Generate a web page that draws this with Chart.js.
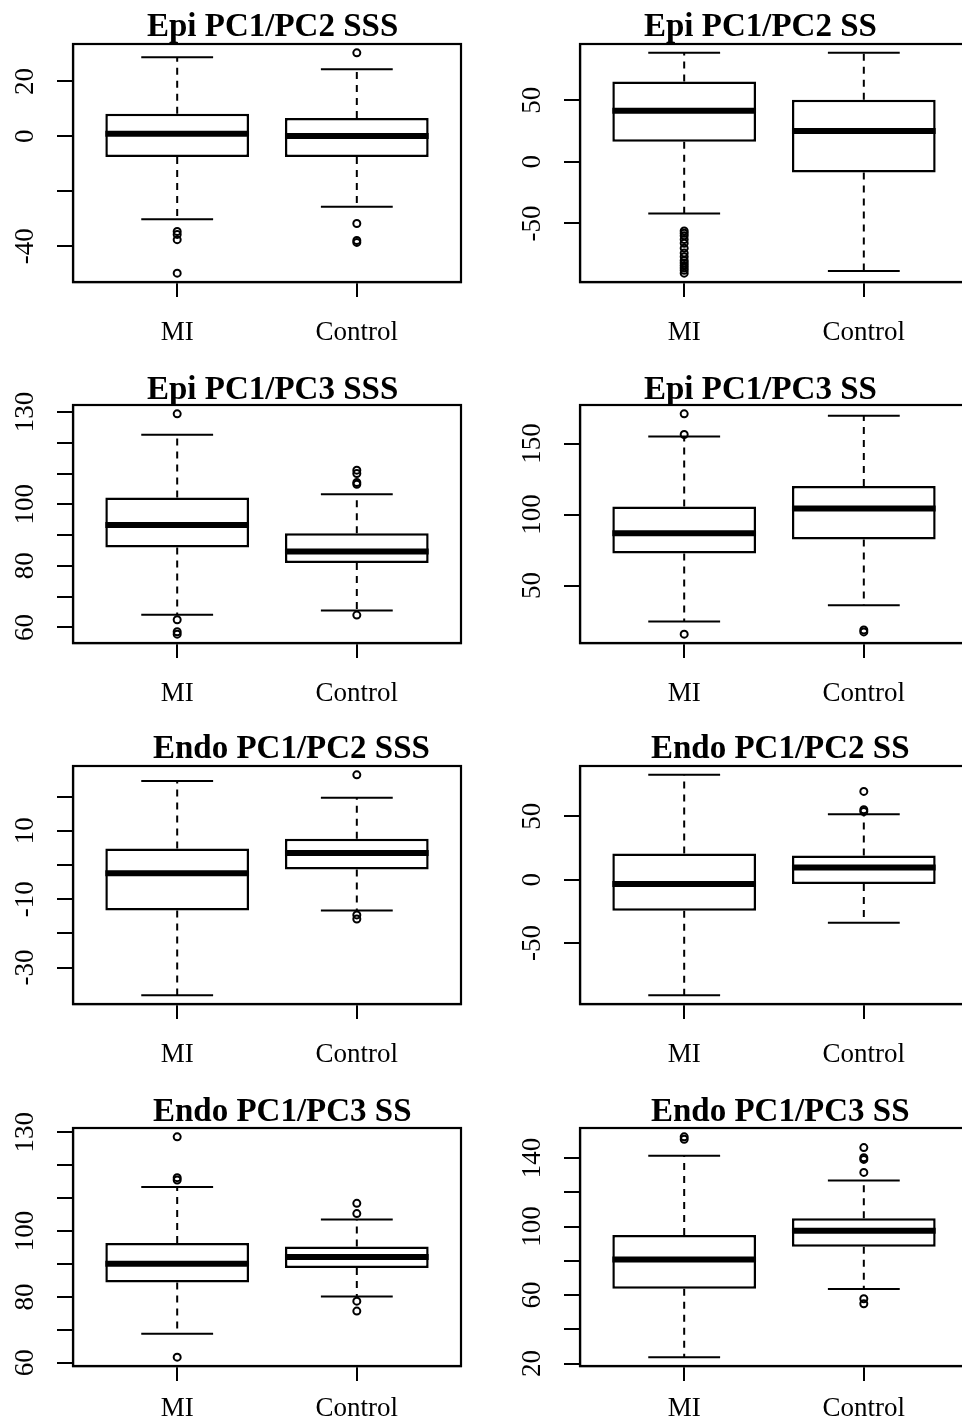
<!DOCTYPE html>
<html>
<head>
<meta charset="utf-8">
<script src="https://cdn.jsdelivr.net/npm/chart.js@4.4.0/dist/chart.umd.min.js"></script>
<style>
html, body { margin: 0; padding: 0; background: #fff; overflow: hidden; width: 962px; height: 1420px; }
.painel { position: absolute; }
.titulo { position: absolute; font: bold 33px "Liberation Serif", "Times New Roman", serif; line-height: 33px; white-space: nowrap; color: #000; }
</style>
</head>
<body>
<script>
const grupos = ['MI', 'Control'];

// stats per group: [lower whisker, q1, median, q3, upper whisker]
const epi12sssStats = [[-30.2, -7.5, 0.9, 8.2, 28.8], [-25.6, -7.5, 0.1, 6.7, 24.4]];
const epi12sssOut = [[-34.6, -35.7, -37.6, -49.8], [30.4, -31.7, -37.9, -38.6]];
const epi12sssTicks = [-40, -20, 0, 20];
const epi12sssLabels = ['-40', '', '0', '20'];

const epi12ssStats = [[-41.9, 16.2, 41.4, 65.1, 88.4], [-88.6, -8.6, 24.9, 50.3, 88.4]];
const epi12ssOut = [[-56, -58, -60, -63, -66, -70, -74, -77, -80, -82, -84, -86, -88, -90.3], []];
const epi12ssTicks = [-50, 0, 50];
const epi12ssLabels = ['-50', '0', '50'];

const epi13sssStats = [[64.1, 86.0, 93.3, 102.2, 122.6], [65.5, 80.9, 84.7, 90.6, 103.3]];
const epi13sssOut = [[129.4, 62.5, 58.6, 57.8], [111.1, 110.0, 107.1, 106.5, 64.0]];
const epi13sssTicks = [60, 70, 80, 90, 100, 110, 120, 130];
const epi13sssLabels = ['60', '', '80', '', '100', '', '', '130'];

const epi13ssStats = [[24.6, 72.6, 86.9, 105.6, 155.0], [36.1, 82.4, 104.2, 120.1, 169.6]];
const epi13ssOut = [[171.0, 156.4, 15.7], [18.7, 17.3]];
const epi13ssTicks = [50, 100, 150];
const epi13ssLabels = ['50', '100', '150'];

const endo12sssStats = [[-38.1, -13.3, -2.4, 4.8, 24.6], [-13.3, -1.3, 3.5, 7.7, 19.7]];
const endo12sssOut = [[], [26.4, -14.6, -15.8]];
const endo12sssTicks = [-30, -20, -10, 0, 10, 20];
const endo12sssLabels = ['-30', '', '-10', '', '10', ''];

const endo12ssStats = [[-91.1, -24.6, -3.4, 20.7, 82.7], [-34.0, -3.4, 9.7, 19.1, 51.6]];
const endo12ssOut = [[], [69.6, 55.2, 53.7]];
const endo12ssTicks = [-50, 0, 50];
const endo12ssLabels = ['-50', '0', '50'];

const endo13aStats = [[68.8, 84.4, 90.1, 96.4, 113.4], [80.1, 88.8, 92.1, 95.3, 103.5]];
const endo13aOut = [[128.6, 116.2, 115.5, 61.7], [108.4, 105.3, 78.7, 75.7]];
const endo13aTicks = [60, 70, 80, 90, 100, 110, 120, 130];
const endo13aLabels = ['60', '', '80', '', '100', '', '', '130'];

const endo13bStats = [[23.7, 63.7, 80.8, 95.1, 141.4], [63.5, 88.2, 97.6, 104.9, 126.9]];
const endo13bOut = [[152.4, 151.0], [146.1, 140.2, 139.2, 131.6, 57.8, 54.9]];
const endo13bTicks = [20, 40, 60, 80, 100, 120, 140];
const endo13bLabels = ['20', '', '60', '', '100', '', '140'];

const paineis = [
    { titulo: 'Epi PC1/PC2 SSS', stats: epi12sssStats, out: epi12sssOut, ticks: epi12sssTicks, labels: epi12sssLabels },
    { titulo: 'Epi PC1/PC2 SS', stats: epi12ssStats, out: epi12ssOut, ticks: epi12ssTicks, labels: epi12ssLabels },
    { titulo: 'Epi PC1/PC3 SSS', stats: epi13sssStats, out: epi13sssOut, ticks: epi13sssTicks, labels: epi13sssLabels },
    { titulo: 'Epi PC1/PC3 SS', stats: epi13ssStats, out: epi13ssOut, ticks: epi13ssTicks, labels: epi13ssLabels },
    { titulo: 'Endo PC1/PC2 SSS', stats: endo12sssStats, out: endo12sssOut, ticks: endo12sssTicks, labels: endo12sssLabels },
    { titulo: 'Endo PC1/PC2 SS', stats: endo12ssStats, out: endo12ssOut, ticks: endo12ssTicks, labels: endo12ssLabels },
    { titulo: 'Endo PC1/PC3 SS', stats: endo13aStats, out: endo13aOut, ticks: endo13aTicks, labels: endo13aLabels },
    { titulo: 'Endo PC1/PC3 SS', stats: endo13bStats, out: endo13bOut, ticks: endo13bTicks, labels: endo13bLabels }
];

// --- layout (frame left / top of each plot, title placement) ---
const colunaX = [73, 580];
const linhaY = [44, 405, 766, 1128];
const tituloX = [147, 644, 147, 644, 153, 651, 153, 651];
const tituloBase = [37, 37, 400, 400, 759, 759, 1122, 1122];
const EIXO_Y = 73, PAD_TOPO = 30, PAD_DIR = 20, ALT_AREA = 238, LARG_AREA = 388, EIXO_X = 70;
const FONTE = '"Liberation Serif", "Times New Roman", serif';

// moldura completa em volta da área do gráfico
const moldura = {
    id: 'moldura',
    afterDraw(chart) {
        const { ctx, chartArea: a } = chart;
        ctx.save();
        ctx.strokeStyle = '#000';
        ctx.lineWidth = 2.2;
        ctx.strokeRect(a.left, a.top, a.right - a.left, a.bottom - a.top);
        ctx.restore();
    }
};

const medidor = document.createElement('canvas').getContext('2d');
medidor.font = '27px ' + FONTE;

function segmentos(lista) {
    // junta segmentos com um ponto nulo entre eles
    const pts = [];
    lista.forEach((s, i) => {
        if (i > 0) pts.push({ x: s[0].x, y: null });
        pts.push(s[0], s[1]);
    });
    return pts;
}

function criarPainel(p, idx) {
    const col = idx % 2, lin = Math.floor(idx / 2);
    const canvas = document.createElement('canvas');
    canvas.className = 'painel';
    canvas.width = EIXO_Y + LARG_AREA + PAD_DIR;
    canvas.height = PAD_TOPO + ALT_AREA + EIXO_X;
    canvas.style.left = (colunaX[col] - EIXO_Y) + 'px';
    canvas.style.top = (linhaY[lin] - PAD_TOPO) + 'px';
    document.body.appendChild(canvas);

    const t = document.createElement('div');
    t.className = 'titulo';
    t.textContent = p.titulo;
    t.style.left = tituloX[idx] + 'px';
    t.style.top = (tituloBase[idx] - 28) + 'px';
    document.body.appendChild(t);

    // limites como no R: extremos dos dados + 4%
    const todos = p.stats.flat().concat(p.out.flat());
    const lo = Math.min(...todos), hi = Math.max(...todos);
    const margem = (hi - lo) * 0.04;
    const n = grupos.length;

    const caixas = p.stats.map((s, i) => ({ x: i + 1, y: [s[1], s[3]] }));
    const medianas = segmentos(p.stats.map((s, i) => [{ x: i + 0.6, y: s[2] }, { x: i + 1.4, y: s[2] }]));
    const bigodes = segmentos(p.stats.flatMap((s, i) => [
        [{ x: i + 1, y: s[3] }, { x: i + 1, y: s[4] }],
        [{ x: i + 1, y: s[1] }, { x: i + 1, y: s[0] }]
    ]));
    const hastes = segmentos(p.stats.flatMap((s, i) => [
        [{ x: i + 0.8, y: s[4] }, { x: i + 1.2, y: s[4] }],
        [{ x: i + 0.8, y: s[0] }, { x: i + 1.2, y: s[0] }]
    ]));
    const outliers = p.out.flatMap((vals, i) => vals.map(v => ({ x: i + 1, y: v })));

    const maisLargo = Math.max(...p.labels.map(l => medidor.measureText(l).width));
    const linhaFn = { type: 'line', pointRadius: 0, borderColor: '#000', spanGaps: false, fill: false, borderCapStyle: 'butt' };

    new Chart(canvas, {
        type: 'bar',
        data: {
            datasets: [
                { ...linhaFn, data: medianas, borderWidth: 6, order: 0 },
                { type: 'scatter', data: outliers, pointStyle: 'circle', pointRadius: 3.5, borderWidth: 2,
                  pointBorderColor: '#000', pointBackgroundColor: 'rgba(0,0,0,0)', order: 1 },
                { ...linhaFn, data: hastes, borderWidth: 2, order: 2 },
                { ...linhaFn, data: bigodes, borderWidth: 2, borderDash: [7, 6], order: 3 },
                { type: 'bar', data: caixas, backgroundColor: '#fff', borderColor: '#000', borderWidth: 2.5,
                  borderSkipped: false, barPercentage: 0.8, categoryPercentage: 1.0, order: 4 }
            ]
        },
        options: {
            responsive: false,
            animation: false,
            devicePixelRatio: 1,
            layout: { padding: { top: PAD_TOPO, right: PAD_DIR, left: 0, bottom: 0 } },
            plugins: { legend: { display: false }, tooltip: { enabled: false }, title: { display: false } },
            scales: {
                x: {
                    type: 'linear',
                    offset: false,
                    bounds: 'data',
                    min: 0.5 - n * 0.04, max: n + 0.5 + n * 0.04,
                    afterBuildTicks: s => { s.ticks = grupos.map((g, i) => ({ value: i + 1 })); },
                    afterFit: s => { s.height = EIXO_X; },
                    grid: { offset: false, drawOnChartArea: false, drawTicks: true, tickLength: 15, color: '#000', lineWidth: 2 },
                    border: { display: true, color: '#000', width: 2.2 },
                    ticks: {
                        autoSkip: false, maxRotation: 0, color: '#000',
                        padding: lin === 3 ? 12 : 20,
                        font: { family: FONTE, size: 27, lineHeight: 1.2 },
                        callback: v => grupos[v - 1]
                    }
                },
                y: {
                    type: 'linear',
                    min: lo - margem, max: hi + margem,
                    afterBuildTicks: s => { s.ticks = p.ticks.map(v => ({ value: v })); },
                    afterFit: s => { s.width = EIXO_Y; },
                    grid: { drawOnChartArea: false, drawTicks: true, tickLength: 16, color: '#000', lineWidth: 2 },
                    border: { display: true, color: '#000', width: 2.2 },
                    ticks: {
                        autoSkip: false, minRotation: 90, maxRotation: 90, crossAlign: 'center',
                        padding: 31 - maisLargo / 2, color: '#000',
                        font: { family: FONTE, size: 27, lineHeight: 1.2 },
                        callback: v => p.labels[p.ticks.indexOf(v)]
                    }
                }
            }
        },
        plugins: [moldura]
    });
}

paineis.forEach(criarPainel);
</script>
</body>
</html>
